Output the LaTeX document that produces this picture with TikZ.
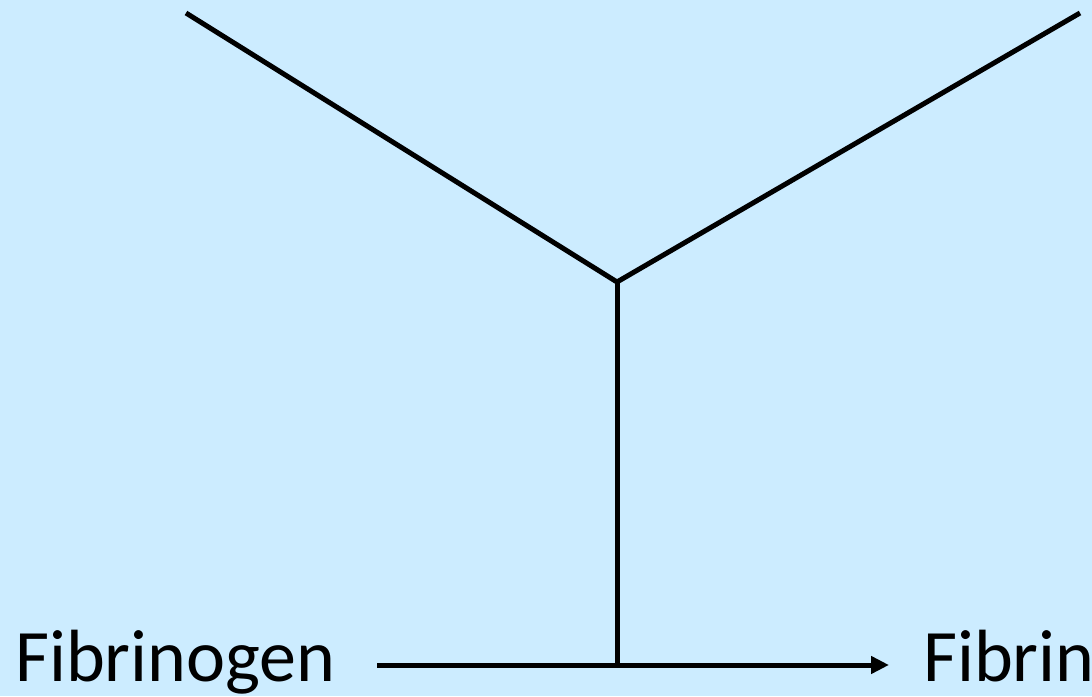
\documentclass[tikz,border=0pt]{standalone}
\usepackage{fontspec}
\setmainfont{Carlito}
\usetikzlibrary{arrows.meta}
\definecolor{bgblue}{HTML}{CCECFF}
\tikzset{
  bond/.style={line width=5pt, black},
  lbl/.style={inner sep=0pt, anchor=base west, font=\fontsize{74}{80}\selectfont},
  conv/.style={line width=5pt, black, -{Triangle[length=18pt,width=17pt]}}
}
\begin{document}
\begin{tikzpicture}[x=1pt,y=1pt]
  \fill[bgblue] (0,0) rectangle (1092,696);
  \useasboundingbox (0,0) rectangle (1092,696);
  \coordinate (L) at (186,683);
  \coordinate (R) at (1080,683);
  \coordinate (J) at (617,414);
  \coordinate (B) at (617,31);
  \coordinate (S) at (377,31);
  \coordinate (E) at (889,31);
  \node[lbl] (fg) at (15,15) {Fibrinogen};
  \node[lbl] (fb) at (923,15) {Fibrin};
  \draw[bond] (L) -- (J) -- (R);
  \draw[bond] (J) -- (B);
  \draw[conv] (S) -- (E);
\end{tikzpicture}
\end{document}
